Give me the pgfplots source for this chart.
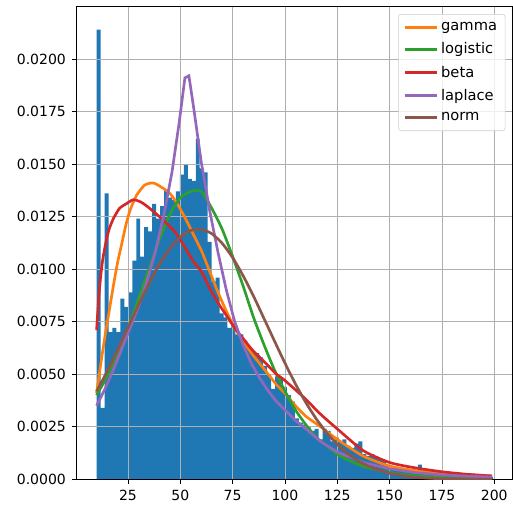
\documentclass[border=0pt]{standalone}
\usepackage{pgfplots}
\pgfplotsset{compat=1.18}
\usepackage{fontspec}
\setmainfont{DejaVu Sans}
\definecolor{c0}{HTML}{1F77B4}
\definecolor{c1}{HTML}{FF7F0E}
\definecolor{c2}{HTML}{2CA02C}
\definecolor{c3}{HTML}{D62728}
\definecolor{c4}{HTML}{9467BD}
\definecolor{c5}{HTML}{8C564B}
\definecolor{gridc}{HTML}{B0B0B0}
\begin{document}
\begin{tikzpicture}
\begin{axis}[
  set layers,
  scale only axis, width=326.25pt, height=354.75pt,
  xmin=0.5, xmax=208.5, ymin=0, ymax=0.02252,
  xtick={25,50,75,100,125,150,175,200},
  ytick={0,0.0025,0.005,0.0075,0.01,0.0125,0.015,0.0175,0.02},
  scaled y ticks=false,
  yticklabel style={/pgf/number format/.cd, fixed, fixed zerofill, precision=4},
  /pgf/number format/assume math mode=true,
  tick label style={font=\fontsize{10.5}{12}\selectfont},
  grid=major, grid style={color=gridc, line width=0.6pt},
  tick align=outside, major tick length=3.6pt, tick pos=left,
  tick style={black, line width=0.6pt},
  axis line style={black, line width=0.6pt},
  xticklabel shift=1pt, yticklabel shift=1pt,
  legend cell align=left,
  legend image code/.code={\draw[#1] (0pt,0pt) -- (24pt,0pt);},
  legend style={at={(1,1)}, anchor=north east, xshift=-5pt, yshift=-6pt,
    font=\fontsize{11}{13}\selectfont, draw=gray!40, rounded corners=2pt,
    fill=white, fill opacity=0.8, text opacity=1, row sep=3.6pt,
    inner xsep=4pt, inner ysep=4pt},
]
\addplot[ybar interval, fill=c0, draw=none, forget plot, on layer=axis background] coordinates {
(10.00,0.0214) (11.90,0.0034) (13.79,0.0136) (15.69,0.0070) (17.58,0.0072)
(19.48,0.0070) (21.37,0.0086) (23.27,0.0082) (25.16,0.0089) (27.06,0.0104)
(28.95,0.0124) (30.85,0.0106) (32.74,0.0120) (34.64,0.0118) (36.53,0.0131)
(38.43,0.0124) (40.32,0.0130) (42.22,0.0138) (44.11,0.0134) (46.01,0.0133)
(47.90,0.0137) (49.80,0.0145) (51.69,0.0150) (53.59,0.0143) (55.48,0.0142)
(57.38,0.0162) (59.27,0.0148) (61.17,0.0146) (63.06,0.0113) (64.96,0.0094)
(66.85,0.0096) (68.75,0.0079) (70.64,0.0077) (72.54,0.0072) (74.43,0.0074)
(76.33,0.0069) (78.22,0.0069) (80.12,0.0066) (82.01,0.0063) (83.91,0.0061)
(85.80,0.0060) (87.70,0.0058) (89.59,0.0054) (91.49,0.0050) (93.38,0.0043)
(95.28,0.0049) (97.17,0.0048) (99.07,0.0044) (100.96,0.0040) (102.86,0.0037)
(104.75,0.0029) (106.65,0.0027) (108.54,0.0026) (110.44,0.0025) (112.33,0.0023)
(114.23,0.0024) (116.12,0.0019) (118.02,0.0024) (119.91,0.0023) (121.81,0.0018)
(123.70,0.0020) (125.60,0.0018) (127.49,0.0019) (129.39,0.0016) (131.28,0.0015)
(133.18,0.0017) (135.07,0.0018) (136.97,0.0012) (138.86,0.0011) (140.76,0.0012)
(142.65,0.0011) (144.55,0.0010) (146.44,0.0009) (148.34,0.0007) (150.23,0.0005)
(152.13,0.0005) (154.02,0.0004) (155.92,0.0004) (157.81,0.0004) (159.71,0.0004)
(161.60,0.0004) (163.50,0.0007) (165.39,0.0003) (167.29,0.0004) (169.18,0.0003)
(171.08,0.0002) (172.97,0.0002) (174.87,0.0003) (176.76,0.0002) (178.66,0.0002)
(180.55,0.0001) (182.45,0.0002) (184.34,0.0003) (186.24,0.0001) (188.13,0.0001)
(190.03,0.0001) (191.92,0.0001) (193.82,0.0001) (195.71,0.0001) (197.61,0.0001)
(199.50,0.0001)
};
\addplot[c1, line width=2pt, smooth, tension=0.4] coordinates {
(10,0.0041) (12,0.0055) (14,0.0068) (16,0.0080) (18,0.0092) (20,0.0103) (22,0.0112)
(24,0.0121) (26,0.0128) (29,0.0135) (33,0.0140) (37,0.0141) (41,0.0139) (45,0.0136)
(48,0.0132) (52,0.0125) (56,0.0117) (60,0.0109) (64,0.0099) (68,0.0089) (72,0.0080)
(76,0.0072) (80,0.0066) (84,0.0060) (88,0.0055) (92,0.0050) (96,0.0045) (100,0.0041)
(105,0.0035) (110,0.0030) (117,0.0025) (125,0.0019) (137.5,0.0011) (150,0.00063)
(162,0.00042) (175,0.00031) (187,0.00022) (199,0.00016)
};
\addlegendentry{gamma}
\addplot[c2, line width=2pt, smooth, tension=0.4] coordinates {
(10,0.0040) (15,0.0049) (20,0.0060) (25,0.0072) (30,0.0086) (35,0.0100) (40,0.0114)
(45,0.0126) (50,0.0134) (55,0.0137) (60,0.0137) (65,0.0129) (70,0.0119) (75,0.0106)
(80,0.0092) (85,0.0077) (90,0.0064) (95,0.0052) (100,0.0042) (105,0.0033) (110,0.0026)
(115,0.0020) (120,0.0016) (125,0.0012) (130,0.00093) (135,0.00071) (140,0.00054)
(150,0.00032) (160,0.00019) (170,0.00011) (180,0.00006) (190,0.000035) (199,0.00002)
};
\addlegendentry{logistic}
\addplot[c3, line width=2pt, smooth, tension=0.4] coordinates {
(10,0.0071) (11,0.0086) (12,0.0097) (13,0.0105) (14.5,0.0113) (16,0.0119) (18,0.0124)
(21,0.0129) (24,0.0131) (27.5,0.0133) (31,0.0132) (34,0.0130) (40,0.0125) (48,0.0117)
(56,0.0104) (60,0.0099) (64,0.0091) (68,0.0084) (72,0.0078) (76,0.0072) (80,0.0067)
(84,0.0062) (88,0.0058) (92,0.0054) (96,0.0050) (100,0.0047) (109,0.0039) (117,0.0031)
(125,0.0024) (137.5,0.00136) (150,0.0008) (162,0.00055) (175,0.00036) (187,0.00024)
(199,0.00016)
};
\addlegendentry{beta}
\addplot[c4, line width=2pt] coordinates {
(10,0.0035) (14,0.0043) (18,0.0052) (22,0.0062) (26,0.0072) (30,0.0082) (34,0.0094)
(38,0.0108) (42,0.0125) (46,0.0146) (49.5,0.0170) (52.2,0.0191) (54.1,0.0192)
(56.5,0.0176) (60,0.0151) (64,0.0128) (68,0.0108) (72,0.0090) (76,0.0075) (80,0.0064)
(84,0.0055) (88,0.0048) (92,0.0042) (96,0.0037) (100,0.0033) (105,0.0028) (110,0.0024)
(117,0.0018) (125,0.0013) (137.5,0.0008) (150,0.0005) (162,0.00032) (175,0.00021)
(187,0.00015) (199,0.00011)
};
\addlegendentry{laplace}
\addplot[c5, line width=2pt, smooth, tension=0.4] coordinates {
(10,0.00418) (15,0.00513) (20,0.00615) (25,0.00722) (30,0.00829) (35,0.00931)
(40,0.01023) (45,0.01098) (50,0.01153) (55,0.01184) (60,0.01190) (65,0.01169)
(70,0.01123) (75,0.01055) (80,0.00969) (85,0.00871) (90,0.00765) (95,0.00658)
(100,0.00553) (105,0.00454) (110,0.00365) (115,0.00287) (120,0.00221) (125,0.00166)
(130,0.00122) (135,0.00088) (140,0.00062) (145,0.00043) (150,0.00029) (160,0.00012)
(170,0.000047) (180,0.000017) (190,0.000005) (199,0.000002)
};
\addlegendentry{norm}
\end{axis}
\pgfresetboundingbox
\path ([xshift=-57.5pt, yshift=-23pt]current axis.south west) rectangle ([xshift=0.75pt, yshift=4.5pt]current axis.north east);
\end{tikzpicture}
\end{document}
